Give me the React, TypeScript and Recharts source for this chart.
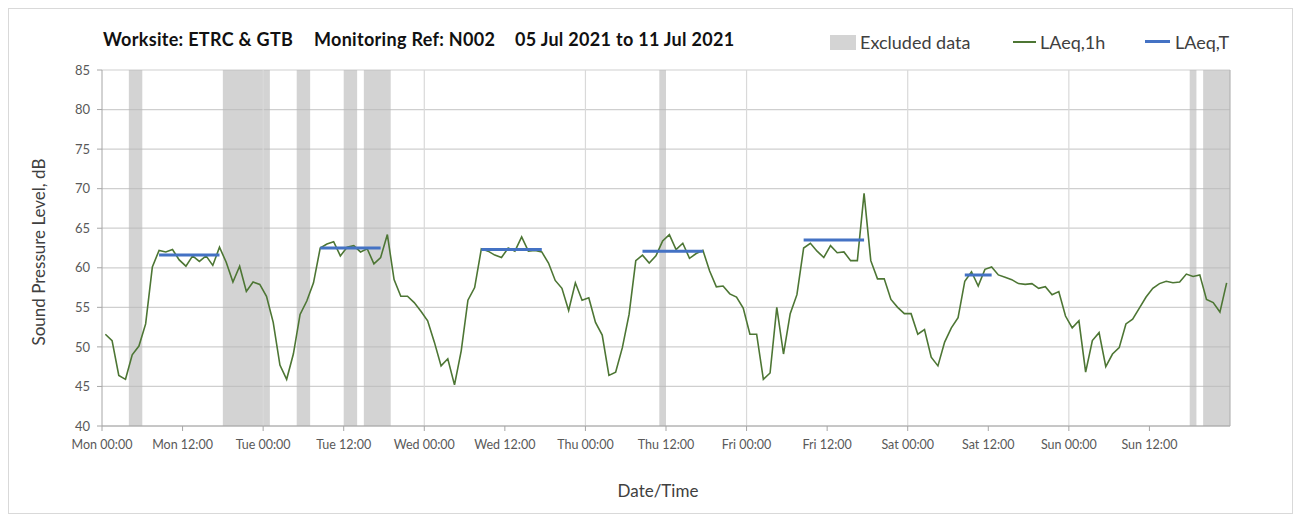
import React from 'react';
import {
  LineChart,
  Line,
  XAxis,
  YAxis,
  CartesianGrid,
  ReferenceArea,
  ReferenceLine,
} from 'recharts';

// hourly LAeq,1h values, one array per day (hour 00..23)
const MON = [51.6, 50.8, 46.4, 45.9, 49.0, 50.1, 52.9, 60.1, 62.2, 62.0, 62.3, 61.0, 60.2, 61.5, 60.8, 61.5, 60.3, 62.6, 60.7, 58.2, 60.2, 57.0, 58.2, 57.9];
const TUE = [56.4, 53.1, 47.7, 45.9, 49.1, 54.1, 55.8, 58.1, 62.5, 63.0, 63.3, 61.5, 62.6, 62.8, 62.0, 62.4, 60.5, 61.3, 64.2, 58.5, 56.4, 56.4, 55.6, 54.5];
const WED = [53.3, 50.6, 47.6, 48.5, 45.2, 49.5, 55.9, 57.5, 62.4, 62.1, 61.6, 61.3, 62.5, 62.1, 63.9, 62.1, 62.2, 62.0, 60.6, 58.4, 57.4, 54.6, 58.1, 55.9];
const THU = [56.2, 53.1, 51.5, 46.4, 46.8, 49.9, 54.1, 60.9, 61.6, 60.6, 61.5, 63.4, 64.2, 62.3, 63.1, 61.2, 61.8, 62.2, 59.6, 57.6, 57.7, 56.7, 56.3, 54.9];
const FRI = [51.6, 51.6, 45.9, 46.7, 55.0, 49.1, 54.2, 56.6, 62.5, 63.1, 62.1, 61.3, 62.8, 61.9, 62.0, 60.9, 60.9, 69.4, 60.9, 58.6, 58.6, 56.0, 55.0, 54.2];
const SAT = [54.2, 51.6, 52.2, 48.7, 47.6, 50.6, 52.4, 53.7, 58.3, 59.5, 57.7, 59.8, 60.1, 59.1, 58.8, 58.5, 58.0, 57.9, 58.0, 57.4, 57.6, 56.6, 57.0, 53.9];
const SUN = [52.4, 53.3, 46.8, 50.8, 51.8, 47.5, 49.1, 49.9, 52.9, 53.5, 54.9, 56.3, 57.4, 58.0, 58.3, 58.1, 58.2, 59.2, 58.9, 59.1, 56.0, 55.6, 54.4, 58.1];

// LAeq,T over the working periods (hour index from Mon 00:00)
const LAEQ_T_FROM = [8, 32, 56, 80, 104, 128];
const LAEQ_T_TO = [17, 41, 65, 89, 113, 132];
const LAEQ_T_VALUE = [61.6, 62.5, 62.3, 62.1, 63.5, 59.1];

// excluded hours [start, end)
const EXCLUDED_FROM = [4, 18, 29, 36, 39, 83, 162, 164];
const EXCLUDED_TO = [6, 25, 31, 38, 43, 84, 163, 168];

const X_TICKS = [0, 12, 24, 36, 48, 60, 72, 84, 96, 108, 120, 132, 144, 156];
const X_TICK_LABELS = [
  'Mon 00:00', 'Mon 12:00', 'Tue 00:00', 'Tue 12:00', 'Wed 00:00', 'Wed 12:00', 'Thu 00:00',
  'Thu 12:00', 'Fri 00:00', 'Fri 12:00', 'Sat 00:00', 'Sat 12:00', 'Sun 00:00', 'Sun 12:00',
];
const DAY_LINES = [24, 48, 72, 96, 120, 144, 168];
const Y_TICKS = [40, 45, 50, 55, 60, 65, 70, 75, 80, 85];

const hourly = [MON, TUE, WED, THU, FRI, SAT, SUN].flat();

const data = hourly.map((v, i) => {
  const k = LAEQ_T_FROM.findIndex((f, j) => i >= f && i <= LAEQ_T_TO[j]);
  return { t: i + 0.5, laeq1h: v, laeqT: k >= 0 ? LAEQ_T_VALUE[k] : null };
});

const FONT = 'Lato, "Open Sans", sans-serif';
const GREEN = '#4d7634';
const BLUE = '#4472c4';

const App: React.FC = () => {
  return (
    <div
      style={{
        position: 'relative',
        width: 1285,
        height: 506,
        border: '1px solid #d9d9d9',
        boxSizing: 'border-box',
        fontFamily: FONT,
        background: '#fff',
      }}
    >
      {/* title */}
      <div style={{ position: 'absolute', top: 19, left: 94, fontSize: 18, fontWeight: 700, color: '#111', whiteSpace: 'nowrap', lineHeight: '22px', letterSpacing: 0.3 }}>
        <span style={{ position: 'absolute', left: 0 }}>Worksite: ETRC &amp; GTB</span>
        <span style={{ position: 'absolute', left: 211 }}>Monitoring Ref: N002</span>
        <span style={{ position: 'absolute', left: 412 }}>05 Jul 2021 to 11 Jul 2021</span>
      </div>

      {/* legend */}
      <div style={{ position: 'absolute', top: 23, left: 0, fontSize: 18, color: '#404040', lineHeight: '20px', whiteSpace: 'nowrap' }}>
        <span style={{ position: 'absolute', left: 821, top: 3, width: 26, height: 15, background: '#d4d4d4' }} />
        <span style={{ position: 'absolute', left: 851 }}>Excluded data</span>
        <span style={{ position: 'absolute', left: 1004, top: 9, width: 23, height: 2, background: GREEN }} />
        <span style={{ position: 'absolute', left: 1031 }}>LAeq,1h</span>
        <span style={{ position: 'absolute', left: 1136, top: 8, width: 25, height: 3, background: BLUE }} />
        <span style={{ position: 'absolute', left: 1166 }}>LAeq,T</span>
      </div>

      {/* axis titles */}
      <div style={{ position: 'absolute', left: 29, top: 243, transform: 'translate(-50%, -50%) rotate(-90deg)', fontSize: 17, color: '#404040', whiteSpace: 'nowrap' }}>
        Sound Pressure Level, dB
      </div>
      <div style={{ position: 'absolute', left: 649, top: 481, transform: 'translate(-50%, -50%)', fontSize: 17, color: '#404040', whiteSpace: 'nowrap' }}>
        Date/Time
      </div>

      <LineChart
        width={1283}
        height={504}
        data={data}
        margin={{ top: 61, right: 62, left: 0, bottom: 57 }}
      >
        <CartesianGrid vertical={false} stroke="#cfcfcf" strokeWidth={1.2} />
        {EXCLUDED_FROM.map((f, i) => (
          <ReferenceArea
            key={`ex-${i}`}
            x1={f}
            x2={EXCLUDED_TO[i]}
            y1={40}
            y2={85}
            fill="#b8b8b8"
            fillOpacity={0.62}
            stroke="none"
          />
        ))}
        {DAY_LINES.map((d) => (
          <ReferenceLine key={`d-${d}`} x={d} stroke={d === 168 ? '#b5b5b5' : '#d9d9d9'} strokeWidth={1.2} />
        ))}
        <XAxis
          type="number"
          dataKey="t"
          domain={[0, 168]}
          ticks={X_TICKS}
          tickFormatter={(v: number) => X_TICK_LABELS[X_TICKS.indexOf(v)]}
          tick={{ fontSize: 12.5, fill: '#595959', fontFamily: FONT }}
          tickSize={5}
          tickMargin={9}
          stroke="#a6a6a6"
          height={30}
          interval={0}
          allowDataOverflow
        />
        <YAxis
          type="number"
          domain={[40, 85]}
          ticks={Y_TICKS}
          tick={{ fontSize: 13, fill: '#595959', fontFamily: FONT }}
          tickSize={5}
          tickMargin={7}
          stroke="#a6a6a6"
          width={93}
          interval={0}
        />
        <Line
          type="linear"
          dataKey="laeq1h"
          stroke={GREEN}
          strokeWidth={1.6}
          dot={false}
          isAnimationActive={false}
        />
        <Line
          type="linear"
          dataKey="laeqT"
          stroke={BLUE}
          strokeWidth={3}
          dot={false}
          connectNulls={false}
          isAnimationActive={false}
        />
      </LineChart>
    </div>
  );
};

export default App;
